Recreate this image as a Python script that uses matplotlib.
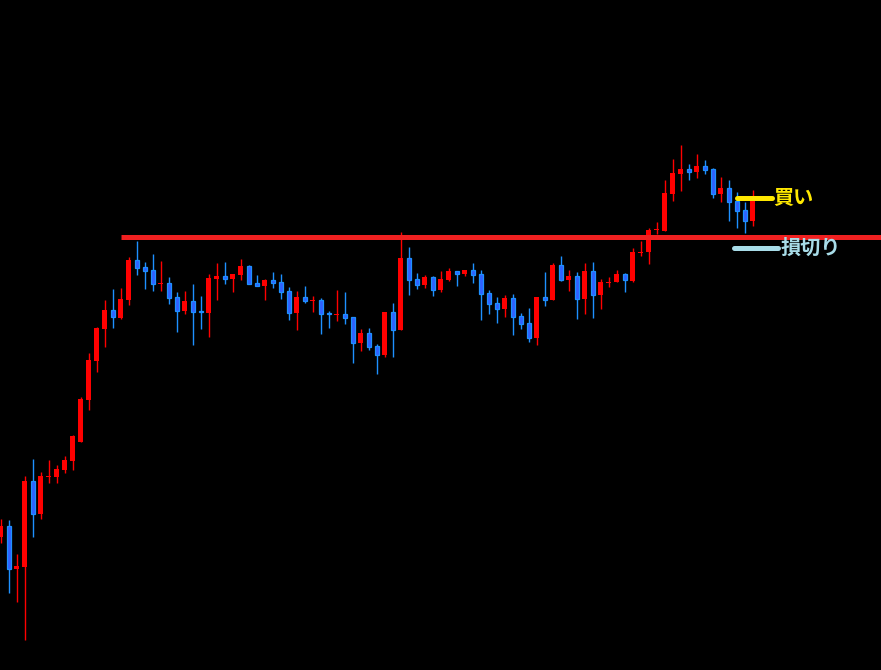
import numpy as np
import matplotlib
matplotlib.use("Agg")
import matplotlib.pyplot as plt

# candle data (price units)
opens = [133, 144, 101, 103, 189, 156, 193, 193, 200, 209,
         228, 270, 309, 341, 360, 352, 370, 410, 403, 400,
         386, 387, 373, 359, 369, 359, 357, 391, 394, 391,
         395, 404, 387, 384, 390, 388, 379, 357, 373, 369,
         370, 357, 355, 356, 353, 327, 337, 324, 315, 358,
         340, 412, 391, 385, 393, 380, 390, 399, 396, 400,
         396, 377, 367, 361, 372, 354, 347, 332, 373, 370,
         405, 390, 394, 371, 399, 375, 387, 388, 396, 389,
         417, 418, 440, 439, 476, 496, 501, 498, 504, 501,
         476, 482, 469, 460, 449]
highs = [151, 150, 116, 194, 211, 198, 210, 205, 214, 235,
         273, 317, 343, 370, 381, 382, 413, 429, 408, 416,
         409, 393, 378, 379, 386, 374, 396, 407, 408, 396,
         411, 405, 395, 391, 398, 396, 383, 379, 384, 374,
         372, 359, 380, 378, 353, 341, 342, 326, 358, 367,
         438, 423, 397, 395, 394, 399, 402, 399, 400, 407,
         400, 380, 373, 375, 376, 357, 362, 373, 398, 407,
         414, 400, 398, 407, 408, 391, 393, 400, 397, 422,
         429, 442, 448, 490, 511, 525, 506, 516, 510, 502,
         493, 490, 478, 468, 480]
lows = [127, 77, 68, 30, 133, 151, 187, 187, 197, 200,
        228, 260, 298, 323, 342, 351, 365, 395, 381, 379,
        379, 366, 338, 356, 325, 341, 333, 370, 386, 378,
        390, 386, 384, 370, 382, 371, 350, 340, 367, 358,
        336, 342, 349, 346, 307, 319, 320, 296, 313, 313,
        340, 375, 381, 382, 374, 378, 389, 384, 394, 387,
        350, 356, 347, 353, 335, 341, 328, 325, 364, 370,
        389, 379, 351, 356, 352, 361, 383, 388, 378, 388,
        414, 406, 436, 439, 469, 479, 490, 492, 496, 472,
        468, 449, 442, 437, 444]
closes = [144, 101, 104, 189, 156, 194, 194, 201, 210, 234,
          271, 310, 342, 360, 353, 371, 410, 402, 399, 386,
          387, 372, 359, 369, 358, 358, 392, 394, 391, 396,
          404, 386, 384, 390, 387, 378, 357, 373, 369, 370,
          356, 356, 356, 352, 327, 337, 323, 315, 358, 340,
          412, 390, 385, 393, 380, 391, 399, 396, 400, 395,
          376, 366, 361, 372, 353, 346, 332, 373, 370, 405,
          390, 394, 371, 399, 375, 388, 388, 396, 390, 418,
          418, 440, 441, 477, 497, 501, 498, 504, 500, 476,
          482, 468, 459, 449, 469]

# horizontal levels
resistance = 433.5
buy_level = 472
stop_level = 422.5

RED = "#FF0000"
BLUE_EDGE = "#1E90FF"
BLUE_FILL = "#3060FF"

fig = plt.figure(figsize=(8.81, 6.70), dpi=100, facecolor="black")
ax = fig.add_axes([0, 0, 1, 1], facecolor="black")

x = np.arange(len(opens))
o = np.array(opens, dtype=float)
h = np.array(highs, dtype=float)
l = np.array(lows, dtype=float)
c = np.array(closes, dtype=float)
up = c >= o

# wicks
ax.vlines(x[up], l[up], h[up], color=RED, lw=1.0, zorder=2)
ax.vlines(x[~up], l[~up], h[~up], color=BLUE_EDGE, lw=1.0, zorder=2)

# bodies
bottom = np.minimum(o, c)
height = np.maximum(np.abs(c - o), 1.0)
ax.bar(x[up], height[up], bottom=bottom[up], width=0.625,
       color=RED, linewidth=0, zorder=3)
ax.bar(x[~up], height[~up], bottom=bottom[~up], width=0.5,
       color=BLUE_FILL, edgecolor=BLUE_EDGE, linewidth=0.9, zorder=3)

# level lines
ax.hlines(resistance, 15.06, 115, color="#F02020", lw=3.6, zorder=4)
ax.plot([92.1, 96.4], [buy_level, buy_level], color="#FFE800", lw=3.6,
        solid_capstyle="round", zorder=5)
ax.plot([91.7, 97.2], [stop_level, stop_level], color="#A8DCE8", lw=3.6,
        solid_capstyle="round", zorder=5)

ax.text(96.55, buy_level, "買い", color="#FFE800", fontsize=14.5,
        fontweight="bold", family=["Noto Sans CJK JP", "DejaVu Sans"],
        va="center", ha="left", zorder=6)
ax.text(97.55, stop_level, "損切り", color="#A8DCE8", fontsize=14.5,
        fontweight="bold", family=["Noto Sans CJK JP", "DejaVu Sans"],
        va="center", ha="left", zorder=6)

ax.set_xlim(-0.0625, -0.0625 + 881 / 8)
ax.set_ylim(0, 670)
ax.axis("off")

fig.savefig("out.png", dpi=100, facecolor="black")
